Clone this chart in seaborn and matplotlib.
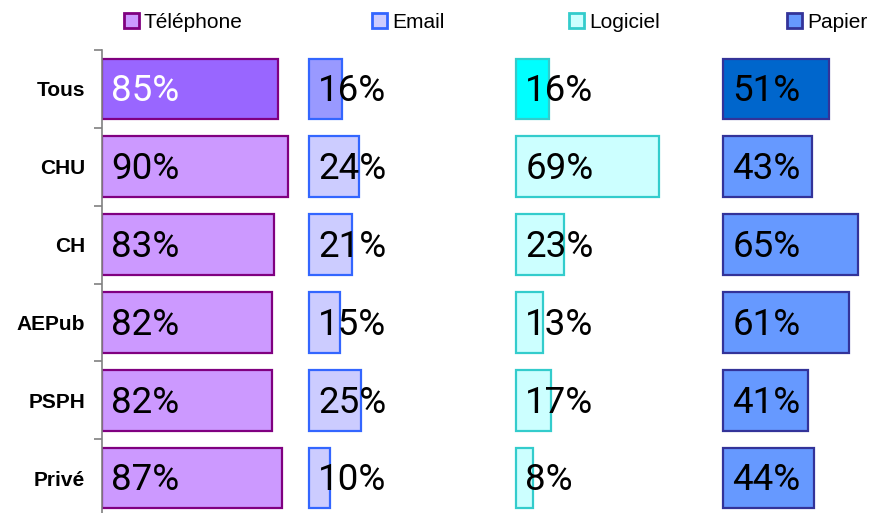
import matplotlib
matplotlib.use("Agg")
import matplotlib.pyplot as plt
from matplotlib.patches import Patch
import seaborn as sns
import pandas as pd

# Survey results by hospital category (percent of respondents)
categories = ["Tous", "CHU", "CH", "AEPub", "PSPH", "Privé"]
series = ["Téléphone", "Email", "Logiciel", "Papier"]
telephone = [85, 90, 83, 82, 82, 87]
email = [16, 24, 21, 15, 25, 10]
logiciel = [16, 69, 23, 13, 17, 8]
papier = [51, 43, 65, 61, 41, 44]

# Styling: regular fill, fill for the "Tous" row, edge colour
fills = ["#CC99FF", "#CCCCFF", "#CCFFFF", "#6699FF"]
fills_total = ["#9966FF", "#9999FF", "#00FFFF", "#0066CC"]
edges = ["#800080", "#3366FF", "#33CCCC", "#333399"]
label_colors_total = ["white", "black", "black", "black"]

df = pd.DataFrame({"categorie": categories, "Téléphone": telephone,
                   "Email": email, "Logiciel": logiciel, "Papier": papier})

sns.set_style("white")
plt.rcParams["font.family"] = ["Liberation Sans", "DejaVu Sans"]
plt.rcParams["text.color"] = "black"
plt.rcParams["ytick.labelcolor"] = "black"

W, H = 870, 513
fig = plt.figure(figsize=(W / 100, H / 100), dpi=100)
ax = fig.add_axes([102 / W, -4 / H, 768 / W, 467 / H])

# Each series occupies its own 100-unit panel along x
for k, name in enumerate(series):
    offset = 100 * k
    vals = df[name].tolist()
    colors = [fills_total[k] if c == "Tous" else fills[k] for c in categories]
    ax.barh(range(len(categories)), vals, left=offset, height=0.78,
            color=colors, edgecolor=edges[k], linewidth=1.6, zorder=2)
    for i, v in enumerate(vals):
        col = label_colors_total[k] if categories[i] == "Tous" else "black"
        ax.text(offset + 4.5, i + 0.03, f"{v}%", ha="left", va="center",
                fontsize=26.5, color=col, zorder=3,
                family=["Roboto", "DejaVu Sans"])

ax.set_xlim(0, 768 / 2.07)
ax.set_ylim(len(categories) - 0.5, -0.5)

# Row separators as outward ticks, category names centred between them
ax.set_yticks([i - 0.5 for i in range(len(categories) + 1)])
ax.set_yticklabels([])
ax.set_yticks(range(len(categories)), minor=True)
ax.set_yticklabels(categories, minor=True, fontsize=15, fontweight="bold",
                   color="black")
ax.tick_params(axis="y", which="major", length=6, width=1.2, color="#808080",
               direction="out", left=True)
ax.tick_params(axis="y", which="minor", length=0, pad=12)
ax.set_xticks([])
for s in ["top", "right", "bottom"]:
    ax.spines[s].set_visible(False)
ax.spines["left"].set_color("#808080")
ax.spines["left"].set_linewidth(1.2)

# One legend entry per series, spread across the top
legend_x = [124, 372, 569, 787]
for k, name in enumerate(series):
    h = Patch(facecolor=fills[k], edgecolor=edges[k], linewidth=2)
    fig.legend(handles=[h], labels=[name], loc="center left",
               bbox_to_anchor=(legend_x[k] / W, 1 - 22 / H), frameon=False,
               handlelength=0.7, handleheight=0.7, handletextpad=0.25,
               borderpad=0, borderaxespad=0, fontsize=15, labelcolor="black")

fig.savefig("out.png", dpi=100)
